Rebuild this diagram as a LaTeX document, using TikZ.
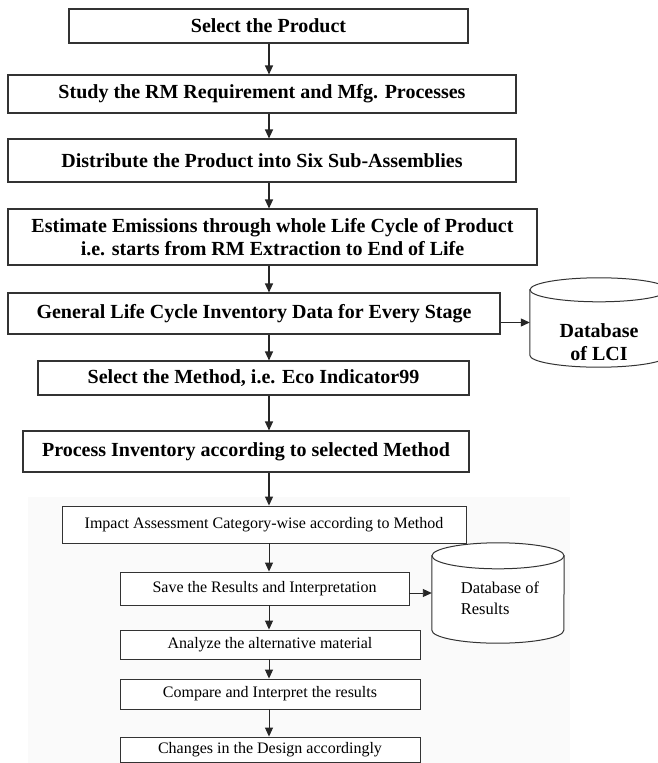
\documentclass[tikz,border=0pt]{standalone}
\usepackage{fontspec}
\setmainfont{Liberation Serif}
\usetikzlibrary{arrows.meta}

\begin{document}
\begin{tikzpicture}[x=1pt, y=-1pt,
		stagebox/.style={draw=black!80, line width=1.1pt, fill=white, inner sep=0pt, align=center, font=\bfseries\fontsize{20}{23}\selectfont},
		smallbox/.style={draw=black!80, line width=0.9pt, fill=white, inner sep=0pt, align=center, font=\fontsize{16}{19}\selectfont},
		dbframe/.style={inner sep=0pt},
		dbline/.style={draw=black!80, line width=1pt, fill=white},
		flow/.style={-{Triangle[length=9pt, width=8pt]}, line width=1.1pt, draw=black!85},
		lowflow/.style={flow, line width=0.9pt}]
			
			\useasboundingbox (0,0) rectangle (658,763);
			\clip (0,0) rectangle (658,763);
			\fill[white] (0,0) rectangle (658,763);
			\fill[black!2] (28,497) rectangle (570,763);
			\coordinate (spine) at (269,0);
			
			% Upper stages
			\node[stagebox, minimum width=399pt, minimum height=34pt] (sel) at (268.5,26) {Select the Product};
			\node[stagebox, minimum width=508pt, minimum height=38pt] (study) at (262,94) {Study the RM Requirement and Mfg. Processes};
			\node[stagebox, minimum width=508pt, minimum height=43pt] (distrib) at (262,160.5) {Distribute the Product into Six Sub-Assemblies};
			\node[stagebox, minimum width=529pt, minimum height=56pt] (estim) at (272.5,237) {Estimate Emissions through whole Life Cycle of Product\\i.e. starts from RM Extraction to End of Life};
			\node[stagebox, minimum width=492pt, minimum height=41pt] (geninv) at (254,313.5) {General Life Cycle Inventory Data for Every Stage};
			\node[stagebox, minimum width=431pt, minimum height=34pt] (method) at (253.5,378) {Select the Method, i.e. Eco Indicator99};
			\node[stagebox, minimum width=446pt, minimum height=41pt] (procinv) at (246,451.5) {Process Inventory according to selected Method};
			
			% Database of LCI
			\node[dbframe, minimum width=138pt, minimum height=89pt] (lci) at (599,322.5) {};
			\draw[dbline] (lci.north west) ++(0,12) -- ([yshift=12pt]lci.south west) arc[start angle=180, end angle=0, x radius=69, y radius=12] -- ([yshift=-12pt]lci.north east) -- cycle;
			\draw[dbline] ([yshift=-12pt]lci.north) ellipse[x radius=69, y radius=12];
			\node[font=\bfseries\fontsize{20}{23}\selectfont, align=center] (lcitext) at (599,342) {Database\\of LCI};
			
			% Lower stages
			\node[smallbox, minimum width=404pt, minimum height=37pt] (impact) at (264,524.5) {Impact Assessment Category-wise according to Method};
			\node[smallbox, minimum width=289pt, minimum height=33pt] (save) at (264.5,588.5) {Save the Results and Interpretation};
			\node[smallbox, minimum width=300pt, minimum height=29pt] (analyze) at (270,644.5) {Analyze the alternative material};
			\node[smallbox, minimum width=300pt, minimum height=30pt] (compare) at (270,694) {Compare and Interpret the results};
			\node[smallbox, minimum width=300pt, minimum height=25pt] (changes) at (270,749.5) {Changes in the Design accordingly};
			
			% Database of Results
			\node[dbframe, minimum width=132pt, minimum height=100pt] (results) at (498,593) {};
			\draw[dbline] (results.north west) ++(0,13) -- ([yshift=13pt]results.south west) arc[start angle=180, end angle=0, x radius=66, y radius=13] -- ([yshift=-13pt]results.north east) -- cycle;
			\draw[dbline] ([yshift=-13pt]results.north) ellipse[x radius=66, y radius=13];
			\node[font=\fontsize{16.5}{21}\selectfont, align=left] (restext) at (500,598) {Database of\\Results};
			
			% Arrows
			\draw[flow] (sel.south -| spine) -- (study.north -| spine);
			\draw[flow] (study.south -| spine) -- (distrib.north -| spine);
			\draw[flow] (distrib.south -| spine) -- (estim.north -| spine);
			\draw[flow] (estim.south -| spine) -- (geninv.north -| spine);
			\draw[flow] (geninv.south -| spine) -- (method.north -| spine);
			\draw[flow] (method.south -| spine) -- (procinv.north -| spine);
			\draw[flow] (procinv.south -| spine) -- (impact.north -| spine);
			\draw[flow] (lci.west -| geninv.east) -- (lci.west);
			
			\draw[lowflow] (impact.south -| spine) -- (save.north -| spine);
			\draw[lowflow] (save.south -| spine) -- (analyze.north -| spine);
			\draw[lowflow] (analyze.south -| spine) -- (compare.north -| spine);
			\draw[lowflow] (compare.south -| spine) -- (changes.north -| spine);
			\draw[lowflow] (results.west -| save.east) -- (results.west);
			
		\end{tikzpicture}
\end{document}
